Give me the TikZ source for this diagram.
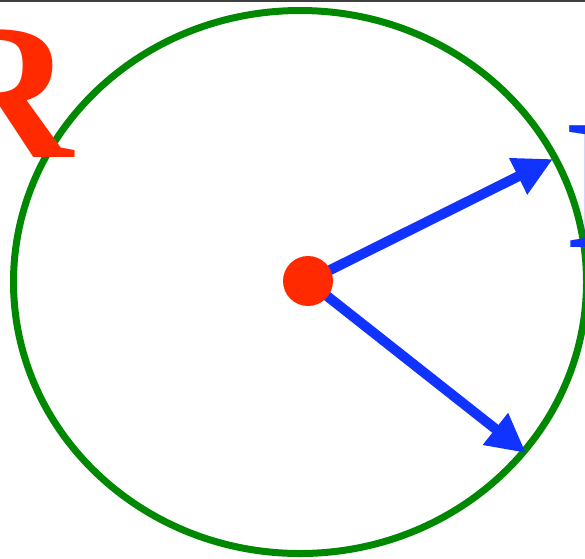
\documentclass[tikz,border=0pt]{standalone}
\usepackage{fontspec}
\setmainfont{Liberation Serif}
\usetikzlibrary{arrows.meta}

\definecolor{ringgreen}{RGB}{0,136,0}
\definecolor{dotred}{RGB}{255,42,0}
\definecolor{vecblue}{RGB}{17,51,255}

\tikzset{
    ring/.style={draw=ringgreen, line width=7pt},
    vector/.style={draw=vecblue, line width=10pt, -{Triangle[length=39pt,width=38pt]}},
    centre/.style={circle, fill=dotred, minimum size=50pt, inner sep=0pt},
    biglabel/.style={inner sep=0pt, font=\fontsize{195}{195}\selectfont\bfseries}
}

\begin{document}
\begin{tikzpicture}[x=1pt, y=-1pt]
    % Fix the frame and cut everything at its edges
    \useasboundingbox (0,0) rectangle (585,558);
    \clip (0,0) rectangle (585,558);

    % Thin rule along the top
    \draw[line width=2pt, black!75] (0,1) -- (585,1);

    % The big ring
    \draw[ring] (300,282) ellipse (286.5pt and 271.5pt);

    % Centre and arrow tips
    \coordinate (o) at (308,281);
    \coordinate (tipA) at (553,159);
    \coordinate (tipB) at (526,453);

    % The two vectors
    \draw[vector] (o) -- (tipA);
    \draw[vector] (o) -- (tipB);

    % Red dot on top
    \node[centre] (dot) at (o) {};

    % Letters at the edges
    \node[biglabel, text=dotred, anchor=base east] (labelR) at (74,157) {R};
    \node[biglabel, text=vecblue, anchor=base west, font=\fontsize{186}{186}\selectfont\bfseries] (labelB) at (566,247) {R};
\end{tikzpicture}
\end{document}
